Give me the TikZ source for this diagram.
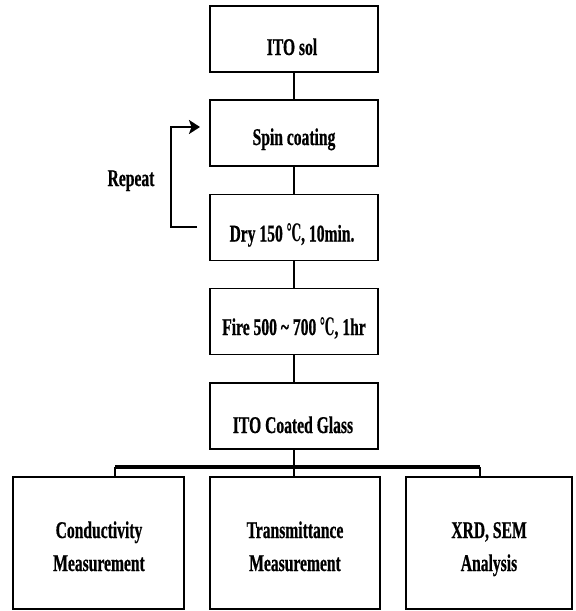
\documentclass[tikz,border=0pt]{standalone}
\usepackage{fontspec}
\setmainfont{Liberation Serif}[FakeStretch=0.65, BoldFeatures={FakeBold=0.6}]
\newfontfamily\degfont{DejaVu Serif}[FakeStretch=0.5]
\usetikzlibrary{arrows.meta}
\begin{document}
\begin{tikzpicture}[x=1pt,y=-1pt,
  box/.style={draw, line width=1.1pt, inner sep=0pt},
  topbox/.style={box, minimum width=168pt, minimum height=66pt},
  botbox/.style={box, minimum width=170pt, minimum height=132pt},
  lbl/.style={font=\fontsize{24pt}{28pt}\selectfont\bfseries, inner sep=0pt, anchor=base},
  blbl/.style={font=\fontsize{24pt}{33pt}\selectfont\bfseries, inner sep=0pt, align=center, anchor=base},
  conn/.style={line width=2pt},
  bar/.style={line width=3.2pt},
  rep/.style={line width=2.4pt, -{Stealth[length=11pt,width=14pt,inset=2.5pt]}}]
\useasboundingbox (0,0) rectangle (576,611);
% boxes
\node[topbox] (sol) at (294,39) {};
\node[topbox] (spin) at (294,133) {};
\node[topbox] (dry) at (294,227.5) {};
\node[topbox] (fire) at (294,321.5) {};
\node[topbox] (glass) at (294,416) {};
\node[botbox, minimum width=171pt] (cond) at (98.5,543) {};
\node[botbox] (trans) at (295,543) {};
\node[botbox, minimum width=166pt] (xrd) at (489,543) {};
% labels
\node[lbl] (tsol) at (292,55) {ITO sol};
\node[lbl] (tspin) at (294,145) {Spin coating};
\node[lbl] (tdry) at (292,241.5) {Dry 150 {\degfont ℃}, 10min.};
\node[lbl] (tfire) at (294,335) {Fire 500 \textasciitilde\ 700 {\degfont ℃}, 1hr};
\node[lbl] (tglass) at (293,433) {ITO Coated Glass};
\node[blbl] (tcond) at (99,571) {Conductivity\\Measurement};
\node[blbl] (ttrans) at (295,571) {Transmittance\\Measurement};
\node[blbl] (txrd) at (489,571) {XRD, SEM\\Analysis};
\node[lbl] (trep) at (131,186) {Repeat};
% connectors
\draw[conn] (sol.south) -- (spin.north);
\draw[conn] (spin.south) -- (dry.north);
\draw[conn] (dry.south) -- (fire.north);
\draw[conn] (fire.south) -- (glass.north);
\draw[conn] (glass.south) -- (trans.north -| glass.south);
\coordinate (barL) at (115,467);
\coordinate (barR) at (480,467);
\draw[bar] (barL) -- (barR);
\draw[conn] (barL) -- (barL |- cond.north);
\draw[conn] (barR) -- (barR |- xrd.north);
% repeat loop
\coordinate (repS) at (197,227);
\coordinate (repC1) at (171,227);
\coordinate (repC2) at (171,127);
\coordinate (repE) at (200,127);
\draw[rep] (repS) -- (repC1) -- (repC2) -- (repE);
\end{tikzpicture}
\end{document}
